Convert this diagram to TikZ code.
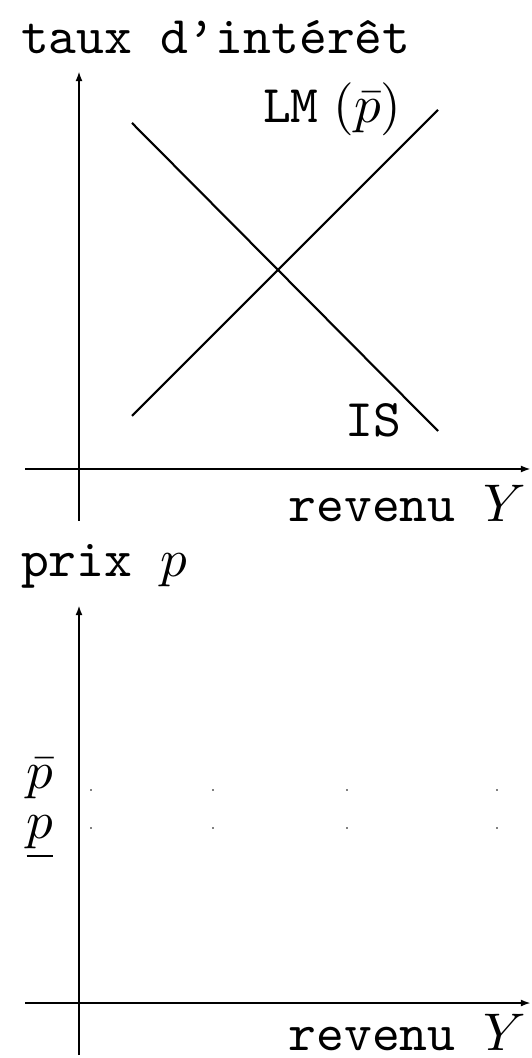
\documentclass[tikz,border=0pt]{standalone}
\usepackage{amsmath,amssymb}
\usepackage{tikz}
\usetikzlibrary{arrows.meta, positioning}

\begin{document}
\begin{tikzpicture}[x=0.1887pt, y=-0.1887pt,
  axis/.style={-{Latex[length=1.9pt,width=1.3pt]}, line width=0.4pt},
  curve/.style={line width=0.4pt},
  txt/.style={inner sep=0pt, font=\ttfamily},
]
\useasboundingbox (0,0) rectangle (531,1058);

% upper diagram: IS-LM
\coordinate (top-y0) at (79,521);
\coordinate (top-y1) at (79,71);
\coordinate (top-x0) at (25,469);
\coordinate (top-x1) at (531,469);
\draw[axis] (top-y0) -- (top-y1);
\draw[axis] (top-x0) -- (top-x1);

\coordinate (is-a) at (132,123);
\coordinate (is-b) at (438,431);
\coordinate (lm-a) at (132,416);
\coordinate (lm-b) at (438,110);
\draw[curve] (is-a) -- (is-b);
\draw[curve] (lm-a) -- (lm-b);

\node[txt, anchor=base west] (taux) at (20,54) {taux d’intérêt};
\node[txt, anchor=base west] (lm)   at (262,123) {LM\;$(\bar{p})$};
\node[txt, anchor=base]      (is)   at (373,437) {IS};
\node[txt, anchor=base east] (rev1) at (527,522) {revenu $Y$};

% lower diagram: prices
\coordinate (bot-y0) at (79,1055);
\coordinate (bot-y1) at (79,605);
\coordinate (bot-x0) at (25,1003);
\coordinate (bot-x1) at (531,1003);
\draw[axis] (bot-y0) -- (bot-y1);
\draw[axis] (bot-x0) -- (bot-x1);

\node[txt, anchor=base west] (prix) at (20,576) {prix $p$};
\node[inner sep=0pt, anchor=base] (pbar) at (40,788) {$\bar{p}$};
\node[inner sep=0pt, anchor=base] (pund) at (40,838) {$\underline{p}$};
\node[txt, anchor=base east] (rev2) at (527,1050) {revenu $Y$};

\foreach \x in {91,213,347,497} {
  \fill (\x,790) circle[radius=0.18pt];
  \fill (\x,828) circle[radius=0.18pt];
}

\end{tikzpicture}
\end{document}
